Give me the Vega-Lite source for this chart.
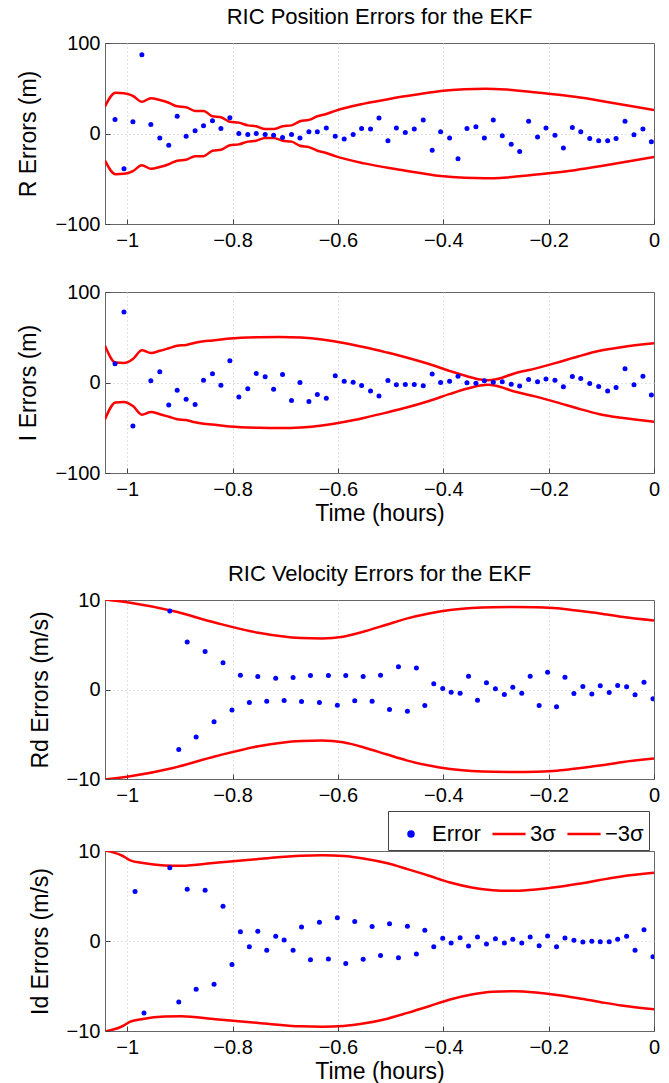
{
"$schema": "https://vega.github.io/schema/vega-lite/v6.json",
"background": "white",
"padding": {"top": 5, "left": 17, "right": 5, "bottom": 5},
"datasets": {
"p1": [{"t":-1.023,"v":15.5},{"t":-1.006,"v":-39},{"t":-0.989,"v":13},{"t":-0.972,"v":87},{"t":-0.955,"v":10},{"t":-0.938,"v":-5},{"t":-0.921,"v":-13},{"t":-0.905,"v":19},{"t":-0.888,"v":-3},{"t":-0.871,"v":3},{"t":-0.855,"v":8.5},{"t":-0.838,"v":14},{"t":-0.822,"v":5.5},{"t":-0.805,"v":17.5},{"t":-0.788,"v":0},{"t":-0.771,"v":-1},{"t":-0.755,"v":0},{"t":-0.738,"v":-1},{"t":-0.722,"v":-2},{"t":-0.705,"v":-4.5},{"t":-0.688,"v":-1},{"t":-0.672,"v":-5},{"t":-0.655,"v":2},{"t":-0.639,"v":2},{"t":-0.622,"v":6},{"t":-0.605,"v":-3},{"t":-0.588,"v":-6},{"t":-0.571,"v":-1},{"t":-0.555,"v":5.5},{"t":-0.538,"v":5},{"t":-0.522,"v":17},{"t":-0.505,"v":-8},{"t":-0.489,"v":6},{"t":-0.472,"v":1},{"t":-0.455,"v":5},{"t":-0.438,"v":15},{"t":-0.421,"v":-18.5},{"t":-0.405,"v":2},{"t":-0.388,"v":-5},{"t":-0.372,"v":-28},{"t":-0.355,"v":5.5},{"t":-0.338,"v":7.5},{"t":-0.322,"v":-5},{"t":-0.305,"v":15},{"t":-0.288,"v":-2.5},{"t":-0.271,"v":-12},{"t":-0.255,"v":-20},{"t":-0.238,"v":13.5},{"t":-0.221,"v":-4},{"t":-0.205,"v":6},{"t":-0.188,"v":-2},{"t":-0.172,"v":-16},{"t":-0.155,"v":6.5},{"t":-0.139,"v":2},{"t":-0.122,"v":-5.5},{"t":-0.105,"v":-8},{"t":-0.088,"v":-8},{"t":-0.072,"v":-5.5},{"t":-0.055,"v":13.5},{"t":-0.038,"v":-1.5},{"t":-0.021,"v":5},{"t":-0.005,"v":-9}],
"p2": [{"t":-1.023,"v":20.7},{"t":-1.006,"v":77.8},{"t":-0.989,"v":-48},{"t":-0.955,"v":1.9},{"t":-0.938,"v":11.9},{"t":-0.921,"v":-24.8},{"t":-0.905,"v":-8.5},{"t":-0.888,"v":-18.5},{"t":-0.871,"v":-24.4},{"t":-0.855,"v":2.6},{"t":-0.838,"v":9.6},{"t":-0.822,"v":-3},{"t":-0.805,"v":24},{"t":-0.788,"v":-15.9},{"t":-0.771,"v":-7},{"t":-0.755,"v":10},{"t":-0.738,"v":6.3},{"t":-0.722,"v":-7.4},{"t":-0.705,"v":8.9},{"t":-0.688,"v":-20},{"t":-0.672,"v":0},{"t":-0.655,"v":-21},{"t":-0.639,"v":-13.3},{"t":-0.622,"v":-17.4},{"t":-0.605,"v":7.4},{"t":-0.588,"v":1.5},{"t":-0.571,"v":0.4},{"t":-0.555,"v":-3.3},{"t":-0.538,"v":-9.3},{"t":-0.522,"v":-14.8},{"t":-0.505,"v":2.2},{"t":-0.489,"v":-2.6},{"t":-0.472,"v":-2.2},{"t":-0.455,"v":-2.2},{"t":-0.438,"v":-3.7},{"t":-0.421,"v":9.3},{"t":-0.405,"v":0},{"t":-0.388,"v":1.5},{"t":-0.372,"v":7},{"t":-0.355,"v":-0.4},{"t":-0.338,"v":-0.7},{"t":-0.322,"v":1.9},{"t":-0.305,"v":0.4},{"t":-0.288,"v":0.7},{"t":-0.271,"v":-1.9},{"t":-0.255,"v":-4},{"t":-0.238,"v":3.3},{"t":-0.221,"v":0.7},{"t":-0.205,"v":4},{"t":-0.188,"v":2.6},{"t":-0.172,"v":-4.8},{"t":-0.155,"v":6.7},{"t":-0.139,"v":4.4},{"t":-0.122,"v":-1.1},{"t":-0.105,"v":-4.4},{"t":-0.088,"v":-9.3},{"t":-0.072,"v":-5.5},{"t":-0.055,"v":15.2},{"t":-0.038,"v":-2.6},{"t":-0.021,"v":7},{"t":-0.005,"v":-13.7}],
"p3": [{"t":-0.919,"v":8.77},{"t":-0.902,"v":-6.7},{"t":-0.886,"v":5.3},{"t":-0.869,"v":-5.3},{"t":-0.852,"v":4.25},{"t":-0.835,"v":-3.6},{"t":-0.818,"v":3.0},{"t":-0.801,"v":-2.3},{"t":-0.785,"v":1.6},{"t":-0.768,"v":-1.45},{"t":-0.752,"v":1.45},{"t":-0.735,"v":-1.3},{"t":-0.718,"v":1.27},{"t":-0.702,"v":-1.23},{"t":-0.685,"v":1.34},{"t":-0.669,"v":-1.34},{"t":-0.652,"v":1.57},{"t":-0.635,"v":-1.45},{"t":-0.618,"v":1.57},{"t":-0.601,"v":-1.75},{"t":-0.585,"v":1.57},{"t":-0.568,"v":-1.27},{"t":-0.552,"v":1.45},{"t":-0.535,"v":-1.3},{"t":-0.519,"v":1.6},{"t":-0.502,"v":-2.24},{"t":-0.485,"v":2.54},{"t":-0.468,"v":-2.43},{"t":-0.451,"v":2.39},{"t":-0.435,"v":-1.8},{"t":-0.418,"v":0.63},{"t":-0.401,"v":0.11},{"t":-0.385,"v":-0.3},{"t":-0.368,"v":-0.41},{"t":-0.352,"v":1.49},{"t":-0.335,"v":-1.2},{"t":-0.318,"v":0.75},{"t":-0.301,"v":0.07},{"t":-0.284,"v":-0.56},{"t":-0.268,"v":0.26},{"t":-0.251,"v":-0.41},{"t":-0.235,"v":1.49},{"t":-0.218,"v":-1.79},{"t":-0.202,"v":1.94},{"t":-0.185,"v":-1.94},{"t":-0.169,"v":1.38},{"t":-0.152,"v":-0.45},{"t":-0.135,"v":0.34},{"t":-0.118,"v":-0.49},{"t":-0.102,"v":0.41},{"t":-0.085,"v":-0.34},{"t":-0.069,"v":0.45},{"t":-0.052,"v":0.3},{"t":-0.036,"v":-0.6},{"t":-0.019,"v":0.82},{"t":-0.002,"v":-1.04}],
"p4": [{"t":-0.985,"v":5.5},{"t":-0.968,"v":-8.0},{"t":-0.919,"v":8.14},{"t":-0.902,"v":-6.77},{"t":-0.886,"v":5.76},{"t":-0.869,"v":-5.35},{"t":-0.852,"v":5.65},{"t":-0.835,"v":-4.8},{"t":-0.818,"v":3.87},{"t":-0.801,"v":-2.6},{"t":-0.785,"v":1.04},{"t":-0.768,"v":-0.63},{"t":-0.752,"v":1.08},{"t":-0.735,"v":-1.04},{"t":-0.718,"v":0.52},{"t":-0.702,"v":0.11},{"t":-0.685,"v":-1.04},{"t":-0.669,"v":1.56},{"t":-0.652,"v":-2.08},{"t":-0.635,"v":2.08},{"t":-0.618,"v":-2.0},{"t":-0.601,"v":2.57},{"t":-0.585,"v":-2.49},{"t":-0.568,"v":2.16},{"t":-0.552,"v":-2.04},{"t":-0.535,"v":1.6},{"t":-0.519,"v":-1.6},{"t":-0.502,"v":1.93},{"t":-0.485,"v":-1.86},{"t":-0.468,"v":1.64},{"t":-0.451,"v":-1.45},{"t":-0.435,"v":1.19},{"t":-0.418,"v":-0.63},{"t":-0.401,"v":0.3},{"t":-0.385,"v":-0.22},{"t":-0.368,"v":0.37},{"t":-0.352,"v":-0.56},{"t":-0.335,"v":0.45},{"t":-0.318,"v":-0.33},{"t":-0.301,"v":0.26},{"t":-0.284,"v":-0.22},{"t":-0.268,"v":0.19},{"t":-0.251,"v":-0.22},{"t":-0.235,"v":0.45},{"t":-0.218,"v":-0.52},{"t":-0.202,"v":0.56},{"t":-0.185,"v":-0.63},{"t":-0.169,"v":0.33},{"t":-0.152,"v":0.07},{"t":-0.135,"v":-0.11},{"t":-0.118,"v":-0.04},{"t":-0.102,"v":-0.07},{"t":-0.085,"v":-0.07},{"t":-0.069,"v":0.19},{"t":-0.052,"v":0.52},{"t":-0.036,"v":-1.04},{"t":-0.019,"v":1.26},{"t":-0.002,"v":-1.75}],
"s1": [{"t":-1.042,"hi":30,"lo":-30},{"t":-1.022,"hi":45,"lo":-45},{"t":-1.006,"hi":44.5,"lo":-44.5},{"t":-0.989,"hi":41.5,"lo":-41.5},{"t":-0.972,"hi":35,"lo":-35},{"t":-0.955,"hi":39,"lo":-39},{"t":-0.938,"hi":37,"lo":-37},{"t":-0.921,"hi":34,"lo":-34},{"t":-0.905,"hi":30,"lo":-30},{"t":-0.888,"hi":29,"lo":-29},{"t":-0.871,"hi":25,"lo":-25},{"t":-0.855,"hi":25,"lo":-25},{"t":-0.838,"hi":19,"lo":-19},{"t":-0.822,"hi":18,"lo":-18},{"t":-0.805,"hi":13,"lo":-13},{"t":-0.788,"hi":12,"lo":-12},{"t":-0.771,"hi":9,"lo":-9},{"t":-0.755,"hi":8,"lo":-8},{"t":-0.738,"hi":5,"lo":-5},{"t":-0.722,"hi":5,"lo":-5},{"t":-0.705,"hi":8,"lo":-8},{"t":-0.688,"hi":9,"lo":-9},{"t":-0.672,"hi":13.5,"lo":-13.5},{"t":-0.655,"hi":15,"lo":-15},{"t":-0.639,"hi":19,"lo":-19},{"t":-0.622,"hi":21.5,"lo":-21.5},{"t":-0.605,"hi":25,"lo":-25},{"t":-0.55,"hi":33,"lo":-33},{"t":-0.5,"hi":38.5,"lo":-38.5},{"t":-0.45,"hi":43,"lo":-43},{"t":-0.405,"hi":47,"lo":-47},{"t":-0.36,"hi":49,"lo":-49},{"t":-0.32,"hi":49.5,"lo":-49.5},{"t":-0.28,"hi":48.5,"lo":-48.5},{"t":-0.24,"hi":46.5,"lo":-46.5},{"t":-0.2,"hi":44,"lo":-44},{"t":-0.15,"hi":40.5,"lo":-40.5},{"t":-0.1,"hi":36,"lo":-36},{"t":-0.05,"hi":31,"lo":-31},{"t":0,"hi":26,"lo":-26}],
"s2": [{"t":-1.042,"hi":40.7,"lo":-40.7},{"t":-1.022,"hi":22,"lo":-22},{"t":-1.006,"hi":21.5,"lo":-21.5},{"t":-0.989,"hi":26,"lo":-26},{"t":-0.972,"hi":35.5,"lo":-35.5},{"t":-0.955,"hi":32.5,"lo":-32.5},{"t":-0.938,"hi":35,"lo":-35},{"t":-0.921,"hi":37.8,"lo":-37.8},{"t":-0.905,"hi":40.5,"lo":-40.5},{"t":-0.888,"hi":41.5,"lo":-41.5},{"t":-0.871,"hi":44,"lo":-44},{"t":-0.855,"hi":45.5,"lo":-45.5},{"t":-0.838,"hi":46.5,"lo":-46.5},{"t":-0.822,"hi":47.5,"lo":-47.5},{"t":-0.805,"hi":48.5,"lo":-48.5},{"t":-0.751,"hi":50,"lo":-50},{"t":-0.711,"hi":50.4,"lo":-50.4},{"t":-0.67,"hi":49.6,"lo":-49.6},{"t":-0.63,"hi":47.4,"lo":-47.4},{"t":-0.589,"hi":43.7,"lo":-43.7},{"t":-0.549,"hi":38.9,"lo":-38.9},{"t":-0.508,"hi":33.3,"lo":-33.3},{"t":-0.468,"hi":27.4,"lo":-27.4},{"t":-0.427,"hi":20.4,"lo":-20.4},{"t":-0.387,"hi":12.6,"lo":-12.6},{"t":-0.354,"hi":6.7,"lo":-6.7},{"t":-0.33,"hi":3.2,"lo":-3.2},{"t":-0.315,"hi":2.5,"lo":-2.5},{"t":-0.3,"hi":3.5,"lo":-3.5},{"t":-0.265,"hi":10,"lo":-10},{"t":-0.224,"hi":15.6,"lo":-15.6},{"t":-0.184,"hi":22,"lo":-22},{"t":-0.143,"hi":29,"lo":-29},{"t":-0.103,"hi":35,"lo":-35},{"t":-0.062,"hi":39,"lo":-39},{"t":0,"hi":43.3,"lo":-43.3}],
"s3": [{"t":-1.042,"hi":10.05,"lo":-10.05},{"t":-0.994,"hi":9.7,"lo":-9.7},{"t":-0.913,"hi":8.77,"lo":-8.77},{"t":-0.832,"hi":7.46,"lo":-7.46},{"t":-0.751,"hi":6.34,"lo":-6.34},{"t":-0.67,"hi":5.75,"lo":-5.75},{"t":-0.63,"hi":5.7,"lo":-5.7},{"t":-0.59,"hi":5.9,"lo":-5.9},{"t":-0.549,"hi":6.5,"lo":-6.5},{"t":-0.508,"hi":7.24,"lo":-7.24},{"t":-0.468,"hi":7.95,"lo":-7.95},{"t":-0.427,"hi":8.5,"lo":-8.5},{"t":-0.387,"hi":8.88,"lo":-8.88},{"t":-0.346,"hi":9.1,"lo":-9.1},{"t":-0.306,"hi":9.2,"lo":-9.2},{"t":-0.265,"hi":9.22,"lo":-9.22},{"t":-0.224,"hi":9.18,"lo":-9.18},{"t":-0.184,"hi":9.07,"lo":-9.07},{"t":-0.143,"hi":8.8,"lo":-8.8},{"t":-0.103,"hi":8.5,"lo":-8.5},{"t":-0.062,"hi":8.13,"lo":-8.13},{"t":0,"hi":7.72,"lo":-7.72}],
"s4": [{"t":-1.042,"hi":10.05,"lo":-10.05},{"t":-1.01,"hi":9.5,"lo":-9.5},{"t":-0.994,"hi":8.96,"lo":-8.96},{"t":-0.97,"hi":8.66,"lo":-8.66},{"t":-0.929,"hi":8.4,"lo":-8.4},{"t":-0.897,"hi":8.36,"lo":-8.36},{"t":-0.832,"hi":8.7,"lo":-8.7},{"t":-0.751,"hi":9.1,"lo":-9.1},{"t":-0.67,"hi":9.48,"lo":-9.48},{"t":-0.63,"hi":9.52,"lo":-9.52},{"t":-0.589,"hi":9.44,"lo":-9.44},{"t":-0.549,"hi":9.14,"lo":-9.14},{"t":-0.508,"hi":8.66,"lo":-8.66},{"t":-0.468,"hi":7.99,"lo":-7.99},{"t":-0.427,"hi":7.25,"lo":-7.25},{"t":-0.387,"hi":6.5,"lo":-6.5},{"t":-0.346,"hi":5.95,"lo":-5.95},{"t":-0.306,"hi":5.65,"lo":-5.65},{"t":-0.265,"hi":5.58,"lo":-5.58},{"t":-0.224,"hi":5.72,"lo":-5.72},{"t":-0.184,"hi":5.99,"lo":-5.99},{"t":-0.143,"hi":6.36,"lo":-6.36},{"t":-0.103,"hi":6.77,"lo":-6.77},{"t":-0.062,"hi":7.17,"lo":-7.17},{"t":0,"hi":7.58,"lo":-7.58}]
},
"resolve": {"scale": {"color": "independent"}},
"spacing": 36,
"vconcat": [
 {"spacing": 30, "vconcat": [
  {"title": "RIC Position Errors for the EKF", "width": 549, "height": 181,
   "layer": [
    {"data": {"name": "s1"}, "transform": [{"fold": ["hi", "lo"], "as": ["k", "v"]}],
     "mark": {"type": "line", "color": "#ff0000", "strokeWidth": 2.5, "interpolate": "monotone", "clip": true},
     "encoding": {
      "x": {"field": "t", "type": "quantitative", "scale": {"domain": [-1.042, 0], "nice": false, "zero": false}, "axis": {"values": [-1, -0.8, -0.6, -0.4, -0.2, 0], "format": "~r", "title": null, "gridOpacity": {"condition": {"test": "datum.value == 0", "value": 0}, "value": 1}}},
      "y": {"field": "v", "type": "quantitative", "scale": {"domain": [-100, 100], "nice": false}, "axis": {"values": [-100, 0, 100], "format": "~r", "title": "R Errors (m)", "gridOpacity": {"condition": {"test": "datum.value != 0", "value": 0}, "value": 1}}},
      "detail": {"field": "k"}}},
    {"data": {"name": "p1"}, "mark": {"type": "point", "filled": true, "color": "#0000ff", "size": 25, "opacity": 1, "clip": true},
     "encoding": {"x": {"field": "t", "type": "quantitative"}, "y": {"field": "v", "type": "quantitative"}}}
   ]},
  {"width": 549, "height": 181,
   "layer": [
    {"data": {"name": "s2"}, "transform": [{"fold": ["hi", "lo"], "as": ["k", "v"]}],
     "mark": {"type": "line", "color": "#ff0000", "strokeWidth": 2.5, "interpolate": "monotone", "clip": true},
     "encoding": {
      "x": {"field": "t", "type": "quantitative", "scale": {"domain": [-1.042, 0], "nice": false, "zero": false}, "axis": {"values": [-1, -0.8, -0.6, -0.4, -0.2, 0], "format": "~r", "title": "Time (hours)", "gridOpacity": {"condition": {"test": "datum.value == 0", "value": 0}, "value": 1}}},
      "y": {"field": "v", "type": "quantitative", "scale": {"domain": [-100, 100], "nice": false}, "axis": {"values": [-100, 0, 100], "format": "~r", "title": "I Errors (m)", "gridOpacity": {"condition": {"test": "datum.value != 0", "value": 0}, "value": 1}}},
      "detail": {"field": "k"}}},
    {"data": {"name": "p2"}, "mark": {"type": "point", "filled": true, "color": "#0000ff", "size": 25, "opacity": 1, "clip": true},
     "encoding": {"x": {"field": "t", "type": "quantitative"}, "y": {"field": "v", "type": "quantitative"}}}
   ]}
 ]},
 {"spacing": 4, "resolve": {"scale": {"color": "independent"}}, "vconcat": [
  {"title": "RIC Velocity Errors for the EKF", "width": 549, "height": 179,
   "layer": [
    {"data": {"name": "s3"}, "transform": [{"fold": ["hi", "lo"], "as": ["k", "v"]}],
     "mark": {"type": "line", "color": "#ff0000", "strokeWidth": 2.5, "interpolate": "monotone", "clip": true},
     "encoding": {
      "x": {"field": "t", "type": "quantitative", "scale": {"domain": [-1.042, 0], "nice": false, "zero": false}, "axis": {"values": [-1, -0.8, -0.6, -0.4, -0.2, 0], "format": "~r", "title": null, "gridOpacity": {"condition": {"test": "datum.value == 0", "value": 0}, "value": 1}}},
      "y": {"field": "v", "type": "quantitative", "scale": {"domain": [-10, 10], "nice": false}, "axis": {"values": [-10, 0, 10], "format": "~r", "title": "Rd Errors (m/s)", "gridOpacity": {"condition": {"test": "datum.value != 0", "value": 0}, "value": 1}}},
      "detail": {"field": "k"}}},
    {"data": {"name": "p3"}, "mark": {"type": "point", "filled": true, "color": "#0000ff", "size": 25, "opacity": 1, "clip": true},
     "encoding": {"x": {"field": "t", "type": "quantitative"}, "y": {"field": "v", "type": "quantitative"}}}
   ]},
  {"width": 549, "height": 180,
   "layer": [
    {"data": {"name": "s4"}, "transform": [{"fold": ["hi", "lo"], "as": ["k", "v"]}],
     "mark": {"type": "line", "strokeWidth": 2.5, "interpolate": "monotone", "clip": true},
     "encoding": {
      "x": {"field": "t", "type": "quantitative", "scale": {"domain": [-1.042, 0], "nice": false, "zero": false}, "axis": {"values": [-1, -0.8, -0.6, -0.4, -0.2, 0], "format": "~r", "title": "Time (hours)", "gridOpacity": {"condition": {"test": "datum.value == 0", "value": 0}, "value": 1}}},
      "y": {"field": "v", "type": "quantitative", "scale": {"domain": [-10, 10], "nice": false}, "axis": {"values": [-10, 0, 10], "format": "~r", "title": "Id Errors (m/s)", "gridOpacity": {"condition": {"test": "datum.value != 0", "value": 0}, "value": 1}}},
      "color": {"field": "k", "type": "nominal", "scale": {"domain": ["Error", "hi", "lo"], "range": ["#0000ff", "#ff0000", "#ff0000"]},
       "legend": {"orient": "none", "legendX": 283, "legendY": -40, "direction": "horizontal", "title": null, "strokeColor": "#444", "fillColor": "white", "padding": 5, "labelFontSize": 22, "labelColor": "#000", "symbolSize": 1100, "columnPadding": 6, "labelOffset": 3,
        "labelExpr": "datum.label == 'hi' ? '3σ' : datum.label == 'lo' ? '−3σ' : datum.label",
        "encode": {"symbols": {"update": {
          "shape": {"signal": "datum.value === 'Error' ? 'circle' : 'stroke'"},
          "size": {"signal": "datum.value === 'Error' ? 25 : 1100"},
          "fill": {"signal": "datum.value === 'Error' ? '#0000ff' : 'transparent'"},
          "stroke": {"signal": "datum.value === 'Error' ? 'transparent' : '#ff0000'"},
          "strokeWidth": {"value": 2.5},
          "opacity": {"value": 1}}}}}},
      "detail": {"field": "k"}}},
    {"data": {"name": "p4"}, "mark": {"type": "point", "filled": true, "size": 25, "opacity": 1, "clip": true},
     "encoding": {"x": {"field": "t", "type": "quantitative"}, "y": {"field": "v", "type": "quantitative"}, "color": {"datum": "Error", "type": "nominal"}}}
   ]}
 ]}
],
"config": {
 "font": "Liberation Sans",
 "view": {"stroke": "#666666", "strokeWidth": 1},
 "axis": {"domain": false, "grid": true, "gridColor": "#c4c4c4", "gridDash": [1, 3], "tickColor": "#444444", "tickSize": -5, "labelFontSize": 20, "labelColor": "#000000", "titleFontSize": 23, "titleFontWeight": "normal", "titleColor": "#000000", "labelFlush": false, "labelOverlap": false},
 "axisX": {"labelPadding": 11, "titlePadding": 3},
 "axisY": {"labelPadding": 10, "titlePadding": 14},
 "title": {"fontSize": 22, "fontWeight": "normal", "color": "#000000", "offset": 4}
}
}
